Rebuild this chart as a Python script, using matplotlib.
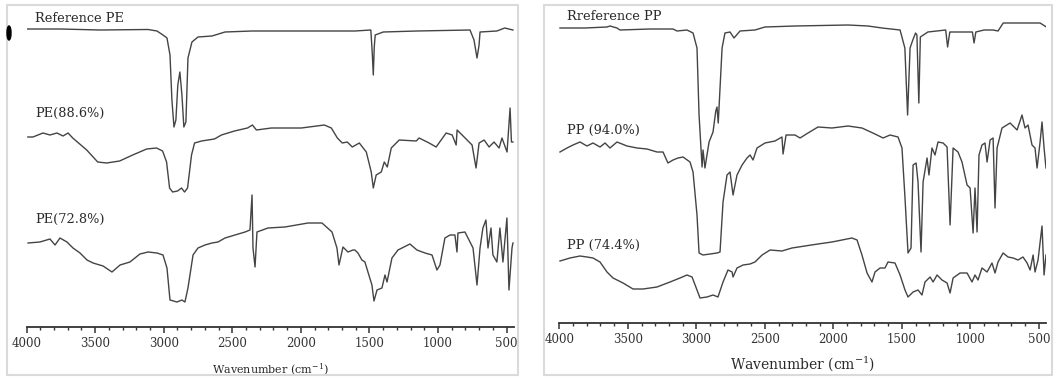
import matplotlib
matplotlib.use("Agg")
import matplotlib.pyplot as plt
from matplotlib.patches import Rectangle, Ellipse
from matplotlib.ticker import MultipleLocator, FormatStrFormatter

plt.rcParams['font.family'] = ['DejaVu Serif']
plt.rcParams['mathtext.fontset'] = 'dejavuserif'

# ---- left panel: PE spectra (wavenumber, transmittance a.u.) ----
pe_ref_wn = [4000, 3756, 3464, 3114, 3049, 3005, 2976, 2954, 2940, 2925, 2911, 2897, 2882,
             2867, 2853, 2838, 2823, 2794, 2750, 2648, 2553, 2356, 1992, 1606, 1490, 1480,
             1472, 1465, 1458, 1400, 1154, 767, 738, 716, 701, 694, 571, 514, 454]
pe_ref_t = [298, 298, 297, 297.5, 296, 292, 289, 272, 227, 200, 207, 242, 255,
            232, 200, 205, 269, 285, 290, 291, 295, 296, 296, 296, 297, 275,
            252, 280, 292, 295, 296, 297, 287, 269, 282, 295, 296, 299, 297]

pe886_wn = [3990, 3953, 3880, 3829, 3778, 3734, 3697, 3663, 3561, 3481, 3416, 3321, 3226,
            3124, 3052, 3008, 2979, 2957, 2935, 2899, 2870, 2848, 2826, 2797, 2775, 2724,
            2630, 2579, 2484, 2389, 2353, 2324, 2215, 1996, 1829, 1778, 1734, 1698, 1662,
            1625, 1574, 1523, 1487, 1472, 1451, 1414, 1392, 1370, 1341, 1283, 1159, 1138,
            1065, 1014, 941, 897, 868, 861, 810, 752, 723, 701, 664, 628, 592, 555, 534,
            497, 475, 465, 454]
pe886_t = [190, 190, 194, 192, 194, 191, 194, 189, 177, 165, 164, 166, 172,
           178, 179, 176, 165, 139, 135, 136, 139, 135, 139, 172, 184, 186,
           188, 192, 196, 199, 202, 197, 199, 199, 202, 199, 189, 184, 185,
           180, 184, 175, 155, 139, 152, 155, 165, 160, 179, 187, 186, 189,
           184, 180, 194, 192, 182, 197, 190, 182, 159, 184, 187, 180, 185, 179, 189,
           175, 219, 185, 185]

pe728_wn = [3989, 3902, 3829, 3792, 3756, 3705, 3661, 3610, 3559, 3515, 3442, 3377, 3318,
            3246, 3173, 3114, 3049, 3005, 2976, 2954, 2903, 2867, 2845, 2823, 2786, 2750,
            2699, 2648, 2604, 2553, 2480, 2407, 2371, 2356, 2349, 2334, 2320, 2240, 2116,
            1948, 1846, 1773, 1737, 1722, 1693, 1657, 1620, 1606, 1584, 1555, 1533, 1511,
            1482, 1467, 1445, 1409, 1387, 1372, 1336, 1292, 1205, 1154, 1095, 1044, 1008,
            986, 950, 913, 877, 862, 855, 804, 767, 745, 716, 694, 673, 651, 636, 614,
            600, 571, 549, 527, 498, 483, 461, 454]
pe728_t = [84, 85, 88, 82, 89, 85, 79, 74, 67, 64, 61, 55, 62,
           65, 73, 75, 74, 72, 59, 27, 25, 27, 25, 39, 72, 79,
           82, 84, 85, 89, 92, 95, 97, 132, 79, 60, 95, 99, 100,
           104, 104, 95, 79, 62, 80, 75, 77, 77, 74, 67, 65, 55,
           42, 26, 37, 39, 52, 45, 69, 77, 83, 77, 74, 72, 57,
           62, 89, 92, 92, 75, 94, 95, 85, 79, 42, 79, 99, 107, 79, 99,
           72, 65, 99, 65, 109, 37, 79, 84]

# ---- right panel: PP spectra ----
pp_ref_wn = [3995, 3812, 3652, 3630, 3579, 3557, 3338, 3170, 3141, 3068, 3024, 2995, 2980,
             2958, 2951, 2937, 2907, 2878, 2858, 2849, 2840, 2812, 2791, 2754, 2725, 2681,
             2572, 2499, 2280, 1893, 1747, 1645, 1513, 1478, 1458, 1440, 1420, 1400, 1390,
             1376, 1365, 1310, 1180, 1166, 1150, 1100, 985, 973, 960, 900, 834, 798, 760,
             491, 445]
pp_ref_t = [295, 295, 296, 297, 295, 293, 294, 294, 292, 293, 290, 275, 208,
            156, 173, 155, 181, 191, 212, 216, 200, 275, 290, 291, 285, 292,
            293, 296, 297, 298, 297, 295, 293, 275, 208, 275, 283, 290, 288,
            220, 286, 291, 293, 276, 291, 291, 291, 280, 291, 293, 293, 292, 300,
            300, 296]

pp940_wn = [3995, 3944, 3900, 3849, 3798, 3754, 3703, 3666, 3630, 3579, 3506, 3433, 3360,
            3287, 3243, 3207, 3170, 3134, 3097, 3046, 3024, 2995, 2980, 2951, 2900, 2849,
            2827, 2805, 2776, 2754, 2732, 2703, 2666, 2630, 2608, 2586, 2557, 2499, 2426,
            2375, 2367, 2345, 2280, 2243, 2185, 2112, 2010, 1893, 1791, 1696, 1637, 1586,
            1528, 1499, 1477, 1455, 1433, 1418, 1396, 1382, 1360, 1345, 1316, 1302, 1280,
            1258, 1236, 1199, 1170, 1148, 1126, 1090, 1061, 1024, 1002, 980, 966, 951, 937,
            915, 893, 878, 856, 834, 820, 805, 769, 710, 659, 623, 601, 579, 550, 528, 513,
            491, 477, 462, 448]
pp940_t = [171, 175, 178, 181, 177, 180, 176, 180, 175, 181, 177, 175, 174,
           171, 171, 160, 163, 165, 166, 161, 151, 108, 70, 68, 69, 70,
           71, 121, 148, 151, 128, 148, 158, 165, 168, 163, 175, 180, 182,
           186, 169, 188, 188, 185, 190, 196, 195, 197, 195, 189, 185, 188,
           186, 175, 125, 70, 75, 158, 160, 141, 71, 141, 165, 148, 175,
           168, 181, 180, 176, 98, 175, 171, 161, 138, 135, 90, 135, 91, 168,
           178, 180, 161, 183, 185, 115, 175, 195, 200, 193, 208, 195, 198, 178, 175, 155,
           181, 201, 175, 155]

pp744_wn = [3995, 3922, 3849, 3798, 3754, 3703, 3652, 3608, 3535, 3462, 3389, 3287, 3192,
            3119, 3068, 3031, 2995, 2973, 2922, 2878, 2842, 2805, 2769, 2739, 2732, 2703,
            2659, 2608, 2572, 2520, 2462, 2375, 2302, 2207, 2112, 2010, 1937, 1864, 1827,
            1791, 1754, 1718, 1696, 1659, 1623, 1601, 1550, 1513, 1477, 1455, 1418, 1382,
            1353, 1331, 1294, 1272, 1243, 1207, 1170, 1148, 1126, 1075, 1024, 988, 966,
            944, 915, 878, 842, 820, 798, 761, 725, 688, 652, 616, 586, 564, 542, 528,
            506, 477, 462, 448]
pp744_t = [62, 65, 67, 66, 65, 61, 51, 45, 40, 34, 34, 36, 41,
           45, 48, 46, 33, 25, 26, 28, 26, 41, 53, 51, 46, 55,
           58, 59, 61, 68, 73, 72, 75, 77, 79, 81, 83, 85, 83,
           68, 50, 41, 51, 55, 55, 61, 60, 48, 33, 26, 31, 33,
           28, 41, 46, 41, 48, 43, 40, 30, 45, 50, 50, 41, 48,
           43, 55, 51, 60, 50, 61, 70, 66, 65, 63, 66, 60, 53, 68, 51,
           63, 97, 48, 68]

W, H = 1054, 380
LINE = '#444444'
TXT = '#2a2a2a'

fig = plt.figure(figsize=(W / 100, H / 100), dpi=100)
fig.patch.set_facecolor('white')

# light grey frames around each panel
for x0, x1 in [(7, 518), (544, 1052)]:
    fig.add_artist(Rectangle((x0 / W, 1 - 375 / H), (x1 - x0) / W, 370 / H,
                             transform=fig.transFigure, fill=False,
                             edgecolor='#dadada', lw=1.5))
fig.add_artist(Ellipse((9 / W, 1 - 33 / H), 4 / W, 14 / H,
                       transform=fig.transFigure, color='black'))


def setup(ax, xmax, ymax):
    ax.set_xlim(4000, xmax)
    ax.set_ylim(0, ymax)
    ax.patch.set_visible(False)
    for s in ['top', 'left', 'right']:
        ax.spines[s].set_visible(False)
    ax.spines['bottom'].set_linewidth(1.3)
    ax.spines['bottom'].set_color('#333333')
    ax.set_yticks([])
    ax.xaxis.set_major_locator(MultipleLocator(500))
    ax.xaxis.set_minor_locator(MultipleLocator(100))
    ax.xaxis.set_major_formatter(FormatStrFormatter('%d'))
    ax.tick_params(axis='x', which='major', length=4, width=1.1, direction='out',
                   pad=3, labelsize=8.5, colors='#333333')
    ax.tick_params(axis='x', which='minor', length=2.5, width=1.0, direction='out',
                   colors='#333333')


# left axes: 4000 at px 26.5, axis line at py 327
ax1 = fig.add_axes([26.5 / W, (H - 327) / H, 487 / W, 317 / H])
setup(ax1, 450, 317)
ax1.plot(pe_ref_wn, pe_ref_t, color=LINE, lw=1.0)
ax1.plot(pe886_wn, pe886_t, color=LINE, lw=1.0)
ax1.plot(pe728_wn, pe728_t, color=LINE, lw=1.0)
ax1.text(3938, 308.5, 'Reference PE', fontsize=9.3, va='center', color=TXT)
ax1.text(3938, 213.5, 'PE(88.6%)', fontsize=9.3, va='center', color=TXT)
ax1.text(3938, 108, 'PE(72.8%)', fontsize=9.3, va='center', color=TXT)
ax1.set_xlabel('Wavenumber (cm$^{-1}$)', fontsize=8, va='center', color=TXT)
ax1.xaxis.set_label_coords(0.5, (327 - 370) / 317)

# right axes: 4000 at px 559.3, axis line at py 323
ax2 = fig.add_axes([559.3 / W, (H - 323) / H, 487.1 / W, 313 / H])
setup(ax2, 445, 313)
ax2.plot(pp_ref_wn, pp_ref_t, color=LINE, lw=1.0)
ax2.plot(pp940_wn, pp940_t, color=LINE, lw=1.0)
ax2.plot(pp744_wn, pp744_t, color=LINE, lw=1.0)
ax2.text(3944, 306, 'Rreference PP', fontsize=9.3, va='center', color=TXT)
ax2.text(3944, 193, 'PP (94.0%)', fontsize=9.3, va='center', color=TXT)
ax2.text(3944, 78, 'PP (74.4%)', fontsize=9.3, va='center', color=TXT)
ax2.set_xlabel('Wavenumber (cm$^{-1}$)', fontsize=10, va='center', color=TXT)
ax2.xaxis.set_label_coords(0.5, (323 - 364) / 313)

fig.savefig('out.png', dpi=100)
